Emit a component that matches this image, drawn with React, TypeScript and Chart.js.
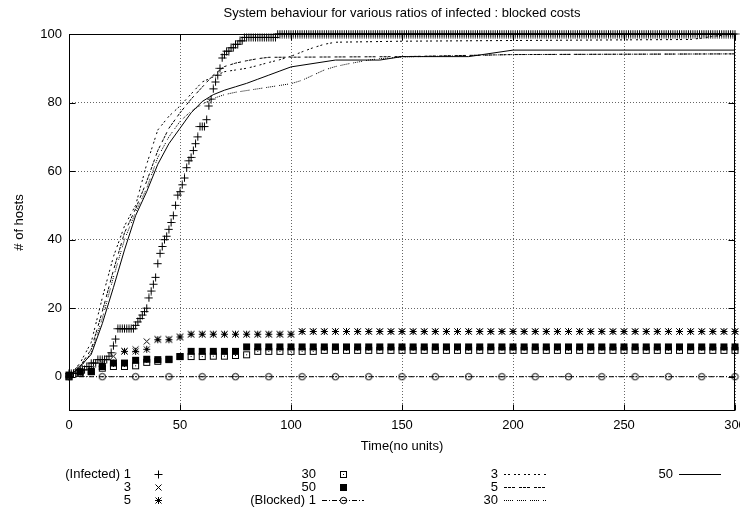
import React, { useEffect, useRef } from "react";
import { Chart, registerables } from "chart.js";

Chart.register(...registerables);

const TITLE = "System behaviour for various ratios of infected : blocked costs";
const X_LABEL = "Time(no units)";
const Y_LABEL = "# of hosts";
const X_TICKS = [0, 50, 100, 150, 200, 250, 300];
const Y_TICKS = [0, 20, 40, 60, 80, 100];

// sample times of the marker series (every 5 time units)
const SAMPLE_TIMES = [
  0, 5, 10, 15, 20, 25, 30, 35, 40, 45, 50, 55, 60, 65, 70, 75, 80, 85, 90, 95,
  100, 105, 110, 115, 120, 125, 130, 135, 140, 145, 150, 155, 160, 165, 170, 175, 180, 185, 190, 195,
  200, 205, 210, 215, 220, 225, 230, 235, 240, 245, 250, 255, 260, 265, 270, 275, 280, 285, 290, 295, 300,
];

// (Infected) 1 : one value per time unit, t = 0..300
const INFECTED_1 = [
  1, 1, 1, 1, 2, 2, 2, 2, 3, 3,
  4, 4, 4, 5, 5, 5, 5, 5, 6, 7,
  9, 11, 14, 14, 14, 14, 14, 14, 14, 14,
  15, 16, 17, 18, 19, 20, 23, 25, 27, 29,
  33, 36, 38, 40, 41, 43, 45, 47, 50, 53,
  54, 56, 58, 61, 63, 64, 66, 68, 70, 73,
  73, 73, 75, 79, 81, 84, 86, 88, 90, 93,
  94, 95, 95, 96, 96, 97, 97, 98, 98, 99,
  99, 99, 99, 99, 99, 99, 99, 99, 99, 99,
  99, 99, 99, 99, 100, 100, 100, 100, 100, 100,
  100, 100, 100, 100, 100, 100, 100, 100, 100, 100, 100, 100, 100, 100, 100, 100, 100, 100, 100, 100,
  100, 100, 100, 100, 100, 100, 100, 100, 100, 100, 100, 100, 100, 100, 100, 100, 100, 100, 100, 100,
  100, 100, 100, 100, 100, 100, 100, 100, 100, 100, 100, 100, 100, 100, 100, 100, 100, 100, 100, 100,
  100, 100, 100, 100, 100, 100, 100, 100, 100, 100, 100, 100, 100, 100, 100, 100, 100, 100, 100, 100,
  100, 100, 100, 100, 100, 100, 100, 100, 100, 100, 100, 100, 100, 100, 100, 100, 100, 100, 100, 100,
  100, 100, 100, 100, 100, 100, 100, 100, 100, 100, 100, 100, 100, 100, 100, 100, 100, 100, 100, 100,
  100, 100, 100, 100, 100, 100, 100, 100, 100, 100, 100, 100, 100, 100, 100, 100, 100, 100, 100, 100,
  100, 100, 100, 100, 100, 100, 100, 100, 100, 100, 100, 100, 100, 100, 100, 100, 100, 100, 100, 100,
  100, 100, 100, 100, 100, 100, 100, 100, 100, 100, 100, 100, 100, 100, 100, 100, 100, 100, 100, 100,
  100, 100, 100, 100, 100, 100, 100, 100, 100, 100, 100, 100, 100, 100, 100, 100, 100, 100, 100, 100,
  100,
];

// (Infected) 3, 5, 30, 50 at SAMPLE_TIMES
const INFECTED_3 = [
  0, 1, 2, 4, 6, 7.5, 8, 10.3, 11, 11, 11.6,
  12.4, 12.4, 12.4, 12.4, 12.4, 12.4, 12.4, 12.4, 12.4, 12.4,
  13.2, 13.2, 13.2, 13.2, 13.2, 13.2, 13.2, 13.2, 13.2, 13.2,
  13.2, 13.2, 13.2, 13.2, 13.2, 13.2, 13.2, 13.2, 13.2, 13.2,
  13.2, 13.2, 13.2, 13.2, 13.2, 13.2, 13.2, 13.2, 13.2, 13.2,
  13.2, 13.2, 13.2, 13.2, 13.2, 13.2, 13.2, 13.2, 13.2, 13.2,
];
const INFECTED_5 = [
  0, 1, 2, 3, 4, 7.4, 7.4, 8, 10.8, 10.8, 11.6,
  12.4, 12.4, 12.4, 12.4, 12.4, 12.4, 12.4, 12.4, 12.4, 12.4,
  13.2, 13.2, 13.2, 13.2, 13.2, 13.2, 13.2, 13.2, 13.2, 13.2,
  13.2, 13.2, 13.2, 13.2, 13.2, 13.2, 13.2, 13.2, 13.2, 13.2,
  13.2, 13.2, 13.2, 13.2, 13.2, 13.2, 13.2, 13.2, 13.2, 13.2,
  13.2, 13.2, 13.2, 13.2, 13.2, 13.2, 13.2, 13.2, 13.2, 13.2,
];
const INFECTED_30 = [
  0, 1, 1.5, 2.5, 3, 3, 3.2, 4.2, 4.5, 5, 5.9,
  5.9, 5.9, 6, 6, 6.2, 6.4, 7.4, 7.4, 7.4, 7.4,
  7.4, 7.4, 7.7, 7.7, 7.7, 7.7, 7.7, 7.7, 7.7, 7.7,
  7.7, 7.7, 7.7, 7.7, 7.7, 7.7, 7.7, 7.7, 7.7, 7.7,
  7.7, 7.7, 7.7, 7.7, 7.7, 7.7, 7.7, 7.7, 7.7, 7.7,
  7.7, 7.7, 7.7, 7.7, 7.7, 7.7, 7.7, 7.7, 7.7, 7.7,
];
const INFECTED_50 = [
  0.5, 1.5, 1.5, 3, 4, 4, 4.8, 5.1, 5, 5.1, 5.9,
  7.4, 7.4, 7.4, 7.4, 7.4, 8.7, 8.7, 8.7, 8.7, 8.7,
  8.7, 8.7, 8.7, 8.7, 8.7, 8.7, 8.7, 8.7, 8.7, 8.7,
  8.7, 8.7, 8.7, 8.7, 8.7, 8.7, 8.7, 8.7, 8.7, 8.7,
  8.7, 8.7, 8.7, 8.7, 8.7, 8.7, 8.7, 8.7, 8.7, 8.7,
  8.7, 8.7, 8.7, 8.7, 8.7, 8.7, 8.7, 8.7, 8.7, 8.7,
];

// (Blocked) series
const BLOCKED_1_TIMES = [0, 15, 30, 45, 60, 75, 90, 105, 120, 135, 150, 165, 180, 195, 210, 225, 240, 255, 270, 285, 300];
const BLOCKED_1 = [0, 0, 0, 0, 0, 0, 0, 0, 0, 0, 0, 0, 0, 0, 0, 0, 0, 0, 0, 0, 0];

const BLOCKED_3_TIMES = [0, 5, 10, 15, 20, 25, 30, 35, 40, 45, 50, 55, 60, 65, 70, 75, 80, 85, 90, 95, 100, 105, 110, 115, 120, 150, 200, 280, 285, 290, 295, 300];
const BLOCKED_3 = [0, 4, 10, 23, 35, 44, 50, 62, 72, 76, 79, 82.5, 86, 87.5, 89, 89.5, 90, 90.8, 91.7, 92.5, 93.5, 94.8, 96, 97, 97.6, 97.9, 98.1, 98.4, 98.8, 99.3, 99.7, 100];

const BLOCKED_5_TIMES = [0, 5, 10, 15, 20, 25, 30, 35, 40, 45, 50, 55, 60, 65, 70, 75, 80, 85, 90, 150, 200, 300];
const BLOCKED_5 = [0, 3, 8, 19, 31, 42, 49, 57, 66, 72.5, 77, 81, 84.5, 88, 90.5, 91.5, 92.2, 92.8, 93.2, 93.4, 94, 94.2];

const BLOCKED_30_TIMES = [0, 5, 10, 15, 20, 25, 30, 35, 40, 45, 50, 55, 60, 65, 70, 75, 80, 85, 90, 95, 100, 105, 110, 115, 120, 125, 130, 135, 140, 150, 200, 300];
const BLOCKED_30 = [0, 2.5, 7, 17, 29, 40, 48, 55, 64, 70, 74.5, 77.5, 79.5, 81.2, 82.3, 83, 83.5, 84, 84.5, 85, 85.5, 86.5, 88, 89.5, 90.5, 91.2, 91.8, 92.4, 92.8, 93.3, 94, 94.2];

const BLOCKED_50_TIMES = [0, 5, 10, 15, 20, 25, 30, 35, 40, 45, 50, 55, 60, 65, 70, 75, 80, 85, 90, 95, 100, 120, 140, 150, 180, 200, 300];
const BLOCKED_50 = [0, 3, 6.5, 15.5, 26, 37, 47, 54, 62, 68, 72.5, 77, 80.3, 82.3, 83.6, 84.6, 85.6, 86.8, 88, 89.2, 90.4, 92.4, 92.4, 93.4, 93.4, 95.3, 95.3];

const FONT_FAMILY = "'Liberation Sans', Arial, Helvetica, sans-serif";
const FONT_SIZE = 13;

// key layout (gnuplot-style key below the plot)
const KEY_COL_RIGHT = [131, 316, 498, 673];
const KEY_ROW_Y = [474, 487, 500];
const TITLE_Y = 13;

function makeMarker(kind: string): HTMLCanvasElement {
  const s = 9;
  const c = document.createElement("canvas");
  c.width = s;
  c.height = s;
  const g = c.getContext("2d")!;
  g.strokeStyle = "#000";
  g.fillStyle = "#000";
  g.lineWidth = 1;
  const m = 4.5;
  const plus = (r: number) => {
    g.beginPath();
    g.moveTo(m - r, m);
    g.lineTo(m + r, m);
    g.moveTo(m, m - r);
    g.lineTo(m, m + r);
    g.stroke();
  };
  const cross = (r: number) => {
    g.beginPath();
    g.moveTo(m - r, m - r);
    g.lineTo(m + r, m + r);
    g.moveTo(m - r, m + r);
    g.lineTo(m + r, m - r);
    g.stroke();
  };
  if (kind === "plus") plus(4);
  else if (kind === "cross") cross(3);
  else if (kind === "star") {
    plus(3.5);
    cross(3);
  } else if (kind === "boxDot") {
    g.strokeRect(1.5, 1.5, 6, 6);
    g.fillRect(4, 4, 1, 1);
  } else if (kind === "box") {
    g.fillRect(1, 1, 7, 7);
  } else if (kind === "circleDot") {
    g.beginPath();
    g.arc(4.5, 4.5, 3.2, 0, Math.PI * 2);
    g.stroke();
    g.fillRect(4, 4, 1, 1);
  }
  return c;
}

function pairs(xs: number[], ys: number[]) {
  return ys.map((y, i) => ({ x: xs[i], y }));
}

export default function App() {
  const ref = useRef<HTMLCanvasElement | null>(null);

  useEffect(() => {
    const canvas = ref.current;
    if (!canvas) return;
    const font = { family: FONT_FAMILY, size: FONT_SIZE, weight: "normal" as const };
    const fontCss = `${FONT_SIZE}px ${FONT_FAMILY}`;

    const mk = {
      plus: makeMarker("plus"),
      cross: makeMarker("cross"),
      star: makeMarker("star"),
      boxDot: makeMarker("boxDot"),
      box: makeMarker("box"),
      circleDot: makeMarker("circleDot"),
    };

    const dense = INFECTED_1.map((y, t) => ({ x: t, y }));

    const pointSet = (label: string, data: any[], style: HTMLCanvasElement) => ({
      label,
      data,
      showLine: false,
      pointStyle: style,
      pointRadius: 4,
      borderColor: "#000",
      backgroundColor: "#000",
      clip: false,
    });
    const lineSet = (label: string, data: any[], dash: number[]) => ({
      label,
      data,
      showLine: true,
      borderColor: "#000",
      borderWidth: 1,
      borderDash: dash,
      pointRadius: 0,
      tension: 0,
      fill: false,
      clip: false,
    });

    const datasets: any[] = [
      pointSet("(Infected) 1", dense, mk.plus),
      pointSet("3", pairs(SAMPLE_TIMES, INFECTED_3), mk.cross),
      pointSet("5", pairs(SAMPLE_TIMES, INFECTED_5), mk.star),
      pointSet("30", pairs(SAMPLE_TIMES, INFECTED_30), mk.boxDot),
      pointSet("50", pairs(SAMPLE_TIMES, INFECTED_50), mk.box),
      {
        ...lineSet("(Blocked) 1", pairs(BLOCKED_1_TIMES, BLOCKED_1), [5, 2, 1, 2]),
        pointStyle: mk.circleDot,
        pointRadius: 3,
      },
      lineSet("3", pairs(BLOCKED_3_TIMES, BLOCKED_3), [2, 2, 2, 4]),
      lineSet("5", pairs(BLOCKED_5_TIMES, BLOCKED_5), [3, 1, 3, 1, 3, 4]),
      lineSet("30", pairs(BLOCKED_30_TIMES, BLOCKED_30), [1, 1, 1, 1, 1, 1, 1, 1, 1, 4]),
      lineSet("50", pairs(BLOCKED_50_TIMES, BLOCKED_50), []),
    ];
    datasets.forEach((d, i) => (d.order = datasets.length - i));

    const framePlugin = {
      id: "gnuFrame",
      beforeDatasetsDraw(chart: any) {
        const { ctx, chartArea: a, scales } = chart;
        ctx.save();
        ctx.strokeStyle = "#000";
        ctx.lineWidth = 1;
        ctx.setLineDash([]);
        const L = Math.round(a.left) + 0.5;
        const R = Math.round(a.right) - 0.5;
        const T = Math.round(a.top) + 0.5;
        const B = Math.round(a.bottom) - 0.5;
        ctx.strokeRect(L, T, R - L, B - T);
        ctx.beginPath();
        X_TICKS.forEach((v) => {
          const x = Math.round(scales.x.getPixelForValue(v)) + 0.5;
          ctx.moveTo(x, B);
          ctx.lineTo(x, B - 6);
          ctx.moveTo(x, T);
          ctx.lineTo(x, T + 6);
        });
        Y_TICKS.forEach((v) => {
          const y = Math.round(scales.y.getPixelForValue(v)) + 0.5;
          ctx.moveTo(L, y);
          ctx.lineTo(L + 6, y);
          ctx.moveTo(R, y);
          ctx.lineTo(R - 6, y);
        });
        ctx.stroke();
        ctx.restore();
      },
    };

    const keyPlugin = {
      id: "gnuKey",
      afterDraw(chart: any) {
        const ctx = chart.ctx;
        const a = chart.chartArea;
        ctx.save();
        ctx.font = fontCss;
        ctx.fillStyle = "#000";
        // title, centred over the plot area
        ctx.textAlign = "center";
        ctx.textBaseline = "middle";
        ctx.fillText(TITLE, (a.left + a.right) / 2, TITLE_Y);
        // key
        ctx.textAlign = "right";
        chart.data.datasets.forEach((ds: any, i: number) => {
          const col = Math.floor(i / 3);
          const row = i % 3;
          const rx = KEY_COL_RIGHT[col];
          const y = KEY_ROW_Y[row];
          ctx.fillText(ds.label, rx, y);
          const x0 = rx + 6;
          const x1 = rx + 48;
          const xm = (x0 + x1) / 2;
          if (ds.showLine) {
            ctx.beginPath();
            ctx.strokeStyle = "#000";
            ctx.lineWidth = 1;
            ctx.setLineDash(ds.borderDash || []);
            ctx.moveTo(x0, Math.round(y) + 0.5);
            ctx.lineTo(x1, Math.round(y) + 0.5);
            ctx.stroke();
            ctx.setLineDash([]);
          }
          if (ds.pointRadius > 0 && ds.pointStyle instanceof HTMLCanvasElement) {
            const im = ds.pointStyle;
            ctx.drawImage(im, Math.round(xm - im.width / 2), Math.round(y - im.height / 2));
          }
        });
        ctx.restore();
      },
    };

    const chart = new Chart(canvas, {
      type: "line",
      data: { datasets },
      options: {
        animation: false,
        responsive: false,
        maintainAspectRatio: false,
        events: [],
        layout: { padding: { left: 0, right: 1, top: 34, bottom: 62 } },
        plugins: {
          legend: { display: false },
          tooltip: { enabled: false },
          title: { display: false },
        },
        scales: {
          x: {
            type: "linear",
            min: 0,
            max: 300,
            afterBuildTicks: (s: any) => {
              s.ticks = X_TICKS.map((value) => ({ value }));
            },
            afterFit: (s: any) => {
              s.height = 45;
              s.paddingLeft = 0;
              s.paddingRight = 0;
            },
            ticks: { color: "#000", font, padding: 7, maxRotation: 0, autoSkip: false },
            grid: { color: "rgba(0,0,0,0.6)", lineWidth: 1, drawTicks: false },
            border: { display: false, dash: [1, 2] },
            title: { display: true, text: X_LABEL, color: "#000", font, padding: { top: 0, bottom: 2 } },
          },
          y: {
            type: "linear",
            min: -10,
            max: 100,
            afterBuildTicks: (s: any) => {
              s.ticks = Y_TICKS.map((value) => ({ value }));
            },
            afterFit: (s: any) => {
              s.width = 69;
              s.paddingTop = 0;
              s.paddingBottom = 0;
            },
            ticks: { color: "#000", font, padding: 7 },
            grid: { color: "rgba(0,0,0,0.6)", lineWidth: 1, drawTicks: false },
            border: { display: false, dash: [1, 2] },
            title: { display: true, text: Y_LABEL, color: "#000", font, padding: { top: 12, bottom: 0 } },
          },
        },
      },
      plugins: [framePlugin, keyPlugin],
    });

    return () => chart.destroy();
  }, []);

  return (
    <div style={{ position: "absolute", left: 0, top: 0, width: 740, height: 518, background: "#fff" }}>
      <canvas ref={ref} width={740} height={518} style={{ display: "block", width: 740, height: 518 }} />
    </div>
  );
}
